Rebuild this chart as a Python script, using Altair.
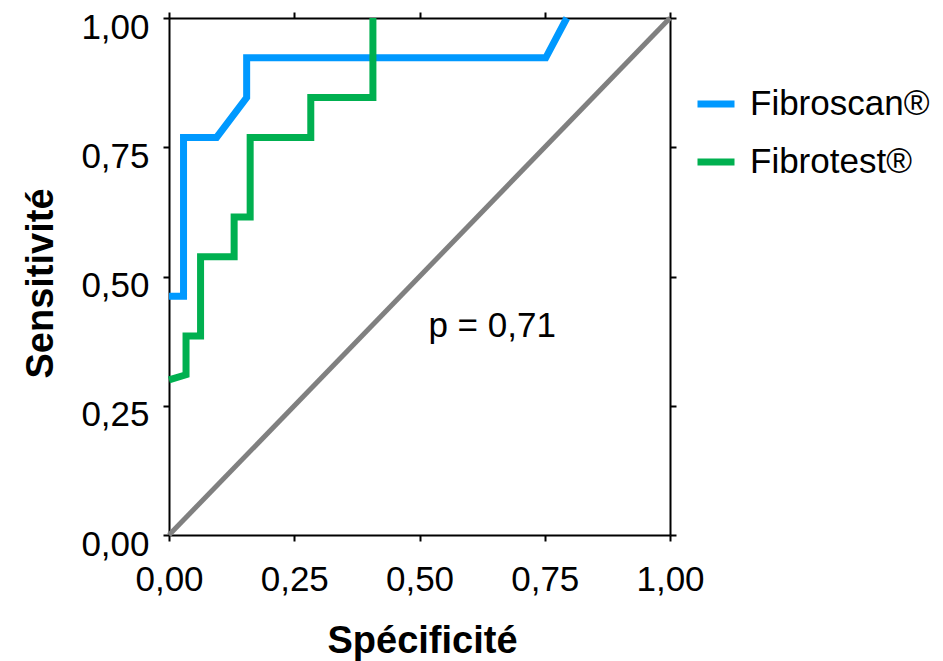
import altair as alt
import pandas as pd

# Fibroscan® ROC curve (1 - specificity on x, sensitivity on y)
fibroscan_x = [0.0, 0.029, 0.029, 0.095, 0.155, 0.155, 0.752, 0.794]
fibroscan_y = [0.462, 0.462, 0.769, 0.769, 0.846, 0.923, 0.923, 1.0]

# Fibrotest® ROC curve
fibrotest_x = [0.0, 0.034, 0.034, 0.063, 0.063, 0.130, 0.130, 0.162, 0.162, 0.283, 0.283, 0.407, 0.407]
fibrotest_y = [0.300, 0.310, 0.385, 0.385, 0.538, 0.538, 0.615, 0.615, 0.769, 0.769, 0.846, 0.846, 1.0]

# Reference diagonal
diag_x = [0.0, 1.0]
diag_y = [0.0, 1.0]

series_names = ["Fibroscan®", "Fibrotest®"]
series_colors = ["#0099FF", "#00B050"]
tick_values = [0.0, 0.25, 0.5, 0.75, 1.0]
p_text = ["p = 0,71"]
p_pos = [(0.645, 0.383)]

FONT = "Liberation Sans"

rows = []
for i, (x, y) in enumerate(zip(fibroscan_x, fibroscan_y)):
    rows.append({"x": x, "y": y, "serie": series_names[0], "ord": i})
for i, (x, y) in enumerate(zip(fibrotest_x, fibrotest_y)):
    rows.append({"x": x, "y": y, "serie": series_names[1], "ord": i})
curves = pd.DataFrame(rows)
diag = pd.DataFrame({"x": diag_x, "y": diag_y})
ann = pd.DataFrame({"x": [p_pos[0][0]], "y": [p_pos[0][1]], "t": p_text})

label_expr = "replace(format(datum.value, '.2f'), '.', ',')"
xscale = alt.Scale(domain=[0, 1], nice=False, zero=False)
yscale = alt.Scale(domain=[0, 1], nice=False, zero=False)

common_axis = dict(
    values=tick_values, grid=False, domainColor="black", domainWidth=2,
    tickColor="black", tickWidth=2, tickSize=6, labelFlush=False, labelOverlap=False,
)

diag_layer = alt.Chart(diag).mark_line(color="#808080", strokeWidth=5, clip=False).encode(
    x=alt.X("x:Q", scale=xscale, axis=alt.Axis(orient="top", labels=False, title=None, **common_axis)),
    y=alt.Y("y:Q", scale=yscale, axis=alt.Axis(orient="right", labels=False, title=None, **common_axis)),
)

curve_layer = alt.Chart(curves).mark_line(strokeWidth=7, strokeJoin="miter", strokeCap="butt", clip=False).encode(
    x=alt.X("x:Q", scale=xscale, axis=alt.Axis(
        orient="bottom", labelExpr=label_expr, labelFont=FONT, labelFontSize=35, labelColor="black",
        labelPadding=21, title="Spécificité", titleFont=FONT, titleFontSize=38, titleFontWeight="bold",
        titleColor="black", titleY=117, titleX=253, titleBaseline="alphabetic", **common_axis)),
    y=alt.Y("y:Q", scale=yscale, axis=alt.Axis(
        orient="left", labelExpr=label_expr, labelFont=FONT, labelFontSize=35, labelColor="black",
        labelPadding=14, labelOffset=9, title="Sensitivité", titleFont=FONT, titleFontSize=38,
        titleFontWeight="bold", titleColor="black", titleX=-117, titleY=265, titleAngle=270,
        titleBaseline="alphabetic", titleAlign="center", **common_axis)),
    color=alt.Color("serie:N", scale=alt.Scale(domain=series_names, range=series_colors),
                    sort=series_names,
                    legend=alt.Legend(orient="none", legendX=525, legendY=64, title=None,
                                      symbolType="stroke", symbolSize=1369, symbolStrokeWidth=7,
                                      labelFont=FONT, labelFontSize=35, labelColor="black",
                                      labelOffset=12, labelLimit=400, rowPadding=18, padding=0)),
    order="ord:Q",
)

text_layer = alt.Chart(ann).mark_text(font=FONT, fontSize=35, color="black", align="center",
                                      baseline="alphabetic").encode(
    x=alt.X("x:Q", scale=xscale, axis=None), y=alt.Y("y:Q", scale=yscale, axis=None), text="t:N"
)

chart = alt.layer(diag_layer, curve_layer, text_layer).resolve_axis(
    x="independent", y="independent"
).properties(
    width=501, height=517,
    autosize=alt.AutoSizeParams(type="none"),
    padding={"left": 169, "top": 18, "right": 273, "bottom": 126},
    background="white",
).configure_view(stroke=None)

chart.save("out.html", embed_options={"renderer": "svg", "actions": False})
